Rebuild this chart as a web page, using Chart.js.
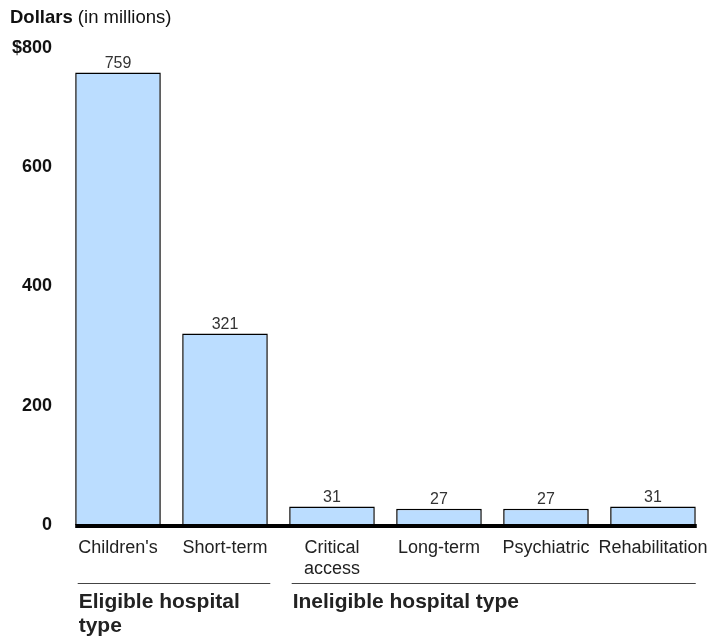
<!DOCTYPE html>
<html>
<head>
<meta charset="utf-8">
<script src="https://cdn.jsdelivr.net/npm/chart.js@4"></script>
<style>
  html, body { margin: 0; padding: 0; background: #fff; }
  #wrap { width: 713px; height: 637px; position: relative; }
</style>
</head>
<body>
<div id="wrap"><canvas id="c"></canvas></div>
<script>
const categories = ["Children's", "Short-term", ["Critical", "access"], "Long-term", "Psychiatric", "Rehabilitation"];
const values = [759, 321, 31, 27, 27, 31];
const yTicks = [0, 200, 400, 600, 800];
const groups = [
  { from: 0, to: 1, label: ["Eligible hospital", "type"] },
  { from: 2, to: 5, label: ["Ineligible hospital type"] },
];

const FONT = "'Liberation Sans', Arial, sans-serif";

// title, bar value labels, baseline, group brackets
const decorPlugin = {
  id: "decor",
  afterDraw(chart) {
    const { ctx } = chart;
    const y = chart.scales.y;
    const bars = chart.getDatasetMeta(0).data;
    const left = i => bars[i].x - bars[i].width / 2;
    const right = i => bars[i].x + bars[i].width / 2;
    ctx.save();

    // title
    ctx.textBaseline = "middle";
    ctx.textAlign = "left";
    ctx.fillStyle = "#111";
    ctx.font = `bold 18.5px ${FONT}`;
    ctx.fillText("Dollars", 10, 18);
    const w = ctx.measureText("Dollars ").width;
    ctx.font = `18.5px ${FONT}`;
    ctx.fillText("(in millions)", 10 + w, 18);

    // values above bars
    ctx.font = `16px ${FONT}`;
    ctx.fillStyle = "#333";
    ctx.textAlign = "center";
    ctx.textBaseline = "bottom";
    bars.forEach((bar, i) => {
      ctx.fillText(String(values[i]), bar.x, bar.y - 1);
    });

    // thick baseline
    ctx.strokeStyle = "#000";
    ctx.lineWidth = 4;
    ctx.beginPath();
    ctx.moveTo(left(0), y.getPixelForValue(0) + 1);
    ctx.lineTo(right(bars.length - 1) + 1, y.getPixelForValue(0) + 1);
    ctx.stroke();

    // group brackets
    groups.forEach(g => {
      const x0 = left(g.from) + 2.5;
      const x1 = Math.min(right(g.to) + 2.5, right(bars.length - 1));
      ctx.strokeStyle = "#444";
      ctx.lineWidth = 1;
      ctx.beginPath();
      ctx.moveTo(x0, 583.5);
      ctx.lineTo(x1, 583.5);
      ctx.stroke();
      ctx.font = `bold 21px ${FONT}`;
      ctx.fillStyle = "#222";
      ctx.textAlign = "left";
      ctx.textBaseline = "middle";
      g.label.forEach((line, k) => {
        ctx.fillText(line, x0 + 1, 602 + k * 24);
      });
    });
    ctx.restore();
  },
};

new Chart(document.getElementById("c"), {
  type: "bar",
  data: {
    labels: categories,
    datasets: [{
      data: values,
      backgroundColor: "#bbddff",
      borderColor: "#000",
      borderWidth: 1.5,
      barPercentage: 0.8,
      categoryPercentage: 1.0,
    }],
  },
  options: {
    responsive: true,
    maintainAspectRatio: false,
    animation: false,
    layout: { padding: { top: 48, right: 6, bottom: 52, left: 0 } },
    plugins: { legend: { display: false }, tooltip: { enabled: false } },
    scales: {
      x: {
        grid: { display: false },
        border: { display: false },
        ticks: {
          color: "#222",
          font: { family: FONT, size: 18, lineHeight: 1.17 },
          maxRotation: 0,
          autoSkip: false,
          padding: 5,
        },
      },
      y: {
        min: 0,
        max: 800,
        afterBuildTicks: axis => { axis.ticks = yTicks.map(v => ({ value: v })); },
        afterFit: axis => { axis.width = 64.5; },
        grid: { display: false },
        border: { display: false },
        ticks: {
          color: "#111",
          font: { family: FONT, size: 18, weight: "bold" },
          padding: 4.5,
          callback: v => (v === 800 ? "$800" : String(v)),
        },
      },
    },
  },
  plugins: [decorPlugin],
});
</script>
</body>
</html>
